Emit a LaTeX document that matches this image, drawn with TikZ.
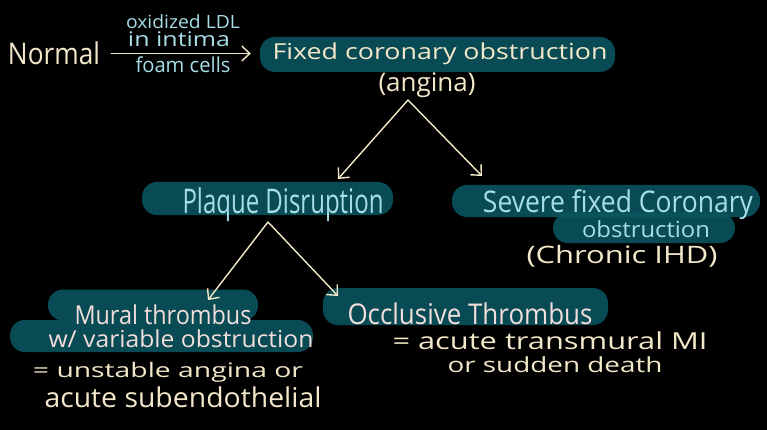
\documentclass[tikz,border=0pt]{standalone}
\usepackage{fontspec}
\setmainfont{Open Sans}
\usepackage{graphicx}
\usetikzlibrary{arrows.meta}
\definecolor{barteal}{HTML}{0B5660}
\definecolor{cream}{HTML}{F3E8C9}
\definecolor{lblue}{HTML}{A6DDE6}
\definecolor{pinkw}{HTML}{F2DEDD}
\newcommand\fitto[3]{\resizebox*{#1pt}{#2pt}{\fontsize{20}{24}\selectfont #3}}
\tikzset{
  bar/.style={rectangle, rounded corners=15pt, fill=barteal, fill opacity=0.88, draw=none, inner sep=0pt},
  txt/.style={inner sep=0pt, anchor=center},
  arr/.style={draw=cream, line width=1.4pt, line cap=round, line join=round, -{Straight Barb[length=8pt,width=15pt,line width=1.4pt]}},
}
\begin{document}
\begin{tikzpicture}[x=1pt,y=-1pt]
\fill[black] (0,0) rectangle (767,430);
\useasboundingbox (0,0) rectangle (767,430);

% highlight bars
\node[bar, minimum width=355pt, minimum height=35pt] (fixedbar) at (437.5,54.5) {};
\node[bar, minimum width=251pt, minimum height=33pt] (plaquebar) at (267.5,198.5) {};
\node[bar, minimum width=308pt, minimum height=32pt] (severebar) at (606,201) {};
\node[bar, minimum width=182pt, minimum height=30pt] (obstrbar) at (644,228) {};
\node[bar, minimum width=210pt, minimum height=31pt] (muralbar) at (153,305) {};
\node[bar, minimum width=303pt, minimum height=32pt] (varbar) at (161.5,336) {};
\node[bar, minimum width=285pt, minimum height=37pt] (occlbar) at (465.5,306.5) {};

% texts
\node[txt, text=cream] (normal) at (54,53.5) {\fitto{92}{23}{Normal}};
\node[txt, text=lblue] (oxld) at (183,22) {\fitto{114}{14}{oxidized LDL}};
\node[txt, text=lblue] (intima) at (179,39.5) {\fitto{102}{15}{in intima}};
\node[txt, text=lblue] (foam) at (183,65) {\fitto{95}{16}{foam cells}};
\node[txt, text=cream] (fixed) at (440,54) {\fitto{335}{22}{Fixed coronary obstruction}};
\node[txt, text=cream] (angina) at (427,85.5) {\fitto{97}{25}{(angina)}};
\node[txt, text=lblue] (plaque) at (283,205) {\fitto{201}{34}{Plaque Disruption}};
\node[txt, text=lblue] (severe) at (618,205) {\fitto{270}{30}{Severe fixed Coronary}};
\node[txt, text=lblue] (obstr) at (646,229) {\fitto{128}{17}{obstruction}};
\node[txt, text=cream] (chronic) at (622,256) {\fitto{191}{22}{(Chronic IHD)}};
\node[txt, text=pinkw] (mural) at (163,315) {\fitto{177}{20}{Mural thrombus}};
\node[txt, text=pinkw] (variable) at (181,339) {\fitto{265}{18}{w/ variable obstruction}};
\node[txt, text=cream] (unstable) at (168,372) {\fitto{270}{20}{= unstable angina or}};
\node[txt, text=cream] (subendo) at (183,397.5) {\fitto{277}{21}{acute subendothelial}};
\node[txt, text=pinkw] (occl) at (470,314) {\fitto{245}{22}{Occlusive Thrombus}};
\node[txt, text=cream] (transmural) at (550,341) {\fitto{315}{18}{= acute transmural MI}};
\node[txt, text=cream] (sudden) at (555,365) {\fitto{215}{16}{or sudden death}};

% connector points
\coordinate (apexA) at (408,100);
\coordinate (tipA1) at (338,179);
\coordinate (tipA2) at (482,176);
\coordinate (apexB) at (268,222);
\coordinate (tipB1) at (208,300);
\coordinate (tipB2) at (338,296);

% connectors
\draw[arr, shorten <=11pt, shorten >=9pt] (normal.east) -- (normal.east -| fixedbar.west);
\draw[arr] (apexA) -- (tipA1);
\draw[arr] (apexA) -- (tipA2);
\draw[arr] (apexB) -- (tipB1);
\draw[arr] (apexB) -- (tipB2);
\end{tikzpicture}
\end{document}
